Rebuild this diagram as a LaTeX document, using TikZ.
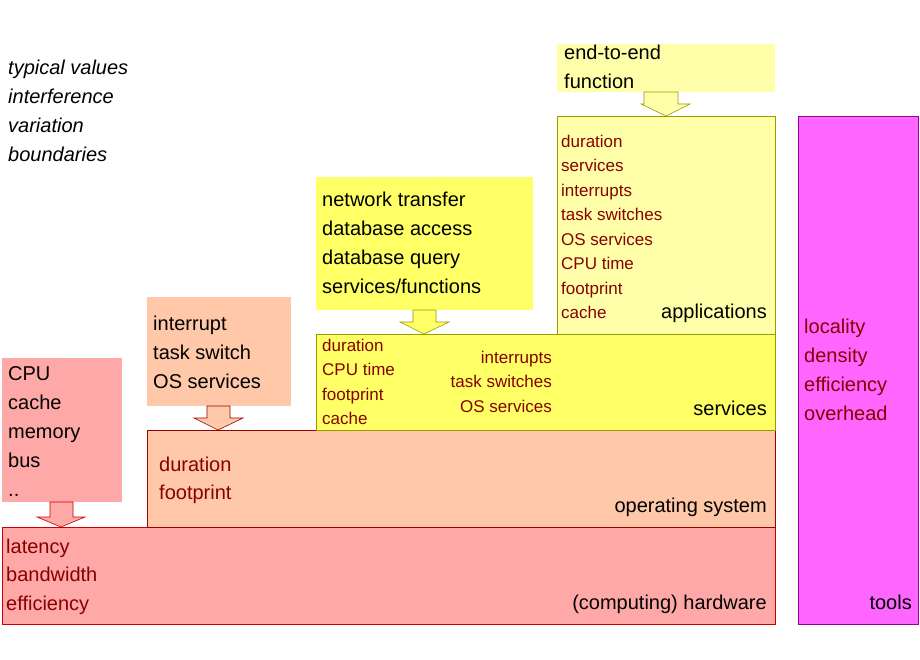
\documentclass[tikz,border=0pt]{standalone}
\usepackage{fontspec}
\setmainfont{Liberation Sans}
\definecolor{hwfill}{HTML}{FFA8A8}\definecolor{hwline}{HTML}{CC0000}
\definecolor{osfill}{HTML}{FFC8A8}\definecolor{osline}{HTML}{990000}
\definecolor{svfill}{HTML}{FFFF66}\definecolor{svline}{HTML}{999900}
\definecolor{apfill}{HTML}{FFFFAA}\definecolor{apline}{HTML}{999900}
\definecolor{tlfill}{HTML}{FF66FF}\definecolor{tlline}{HTML}{990099}
\definecolor{dred}{HTML}{880000}
\begin{document}
\begin{tikzpicture}[x=1pt,y=-1pt,
  big/.style={inner sep=0pt,anchor=base west,align=left,font=\fontsize{20}{29}\selectfont},
  bigr/.style={inner sep=0pt,anchor=base east,align=right,font=\fontsize{20}{29}\selectfont},
  red/.style={inner sep=0pt,anchor=base west,align=left,text=dred,font=\fontsize{17}{24.5}\selectfont},
  redr/.style={inner sep=0pt,anchor=base east,align=right,text=dred,font=\fontsize{17}{24.5}\selectfont},
  redb/.style={inner sep=0pt,anchor=base west,align=left,text=dred,font=\fontsize{20}{28.5}\selectfont},
  arr/.style={line width=0.6pt}]
\useasboundingbox (0,0) rectangle (920,660);
% layers
\draw[fill=hwfill,draw=hwline] (2,527) rectangle (775,624);
\draw[fill=osfill,draw=osline] (147,430) rectangle (775,527);
\draw[fill=svfill,draw=svline] (316,334) rectangle (775,430);
\draw[fill=apfill,draw=apline] (557,116) rectangle (775,334);
\draw[fill=tlfill,draw=tlline] (798,116) rectangle (918,624);
% input boxes
\fill[hwfill] (2,358) rectangle (122,502);
\fill[osfill] (147,297) rectangle (291,406);
\fill[svfill] (316,177) rectangle (533,310);
\fill[apfill] (557,44) rectangle (775,92);
% arrows
\draw[arr,fill=hwfill,draw=hwline] (50,502)--(73,502)--(73,517)--(85,517)--(61,527)--(37,517)--(50,517)--cycle;
\draw[arr,fill=osfill,draw=osline] (207,406)--(230,406)--(230,418)--(243,418)--(218,430)--(194,418)--(207,418)--cycle;
\draw[arr,fill=svfill,draw=svline] (413,310)--(436,310)--(436,322)--(449,322)--(424,334)--(400,322)--(413,322)--cycle;
\draw[arr,fill=apfill,draw=apline] (644,92)--(678,92)--(678,104)--(690,104)--(666,116)--(641,104)--(644,104)--cycle;
% texts (anchored at the baseline of the last line)
\node[big,font=\fontsize{20}{29}\selectfont\itshape] (it) at (8,162) {typical values\\interference\\variation\\boundaries};
\node[big] (cpu) at (8,496) {CPU\\cache\\memory\\bus\\..};
\node[big] (intr) at (153,388) {interrupt\\task switch\\OS services};
\node[big] (net) at (322,293) {network transfer\\database access\\database query\\services/functions};
\node[big] (e2e) at (564,89) {end-to-end\\function};
\node[red] (apr) at (561,318.5) {duration\\services\\interrupts\\task switches\\OS services\\CPU time\\footprint\\cache};
\node[bigr] (apl) at (767,318) {applications};
\node[red] (svr) at (322,424.5) {duration\\CPU time\\footprint\\cache};
\node[redr] (svr2) at (552,412) {interrupts\\task switches\\OS services};
\node[bigr] (svl) at (767,415) {services};
\node[redb] (osr) at (159,499.5) {duration\\footprint};
\node[bigr] (osl) at (767,512) {operating system};
\node[redb] (hwr) at (6,610) {latency\\bandwidth\\efficiency};
\node[bigr] (hwl) at (767,609) {(computing) hardware};
\node[redb,font=\fontsize{20}{29}\selectfont] (tlr) at (804,420) {locality\\density\\efficiency\\overhead};
\node[bigr] (tll) at (912,609) {tools};
\end{tikzpicture}
\end{document}
